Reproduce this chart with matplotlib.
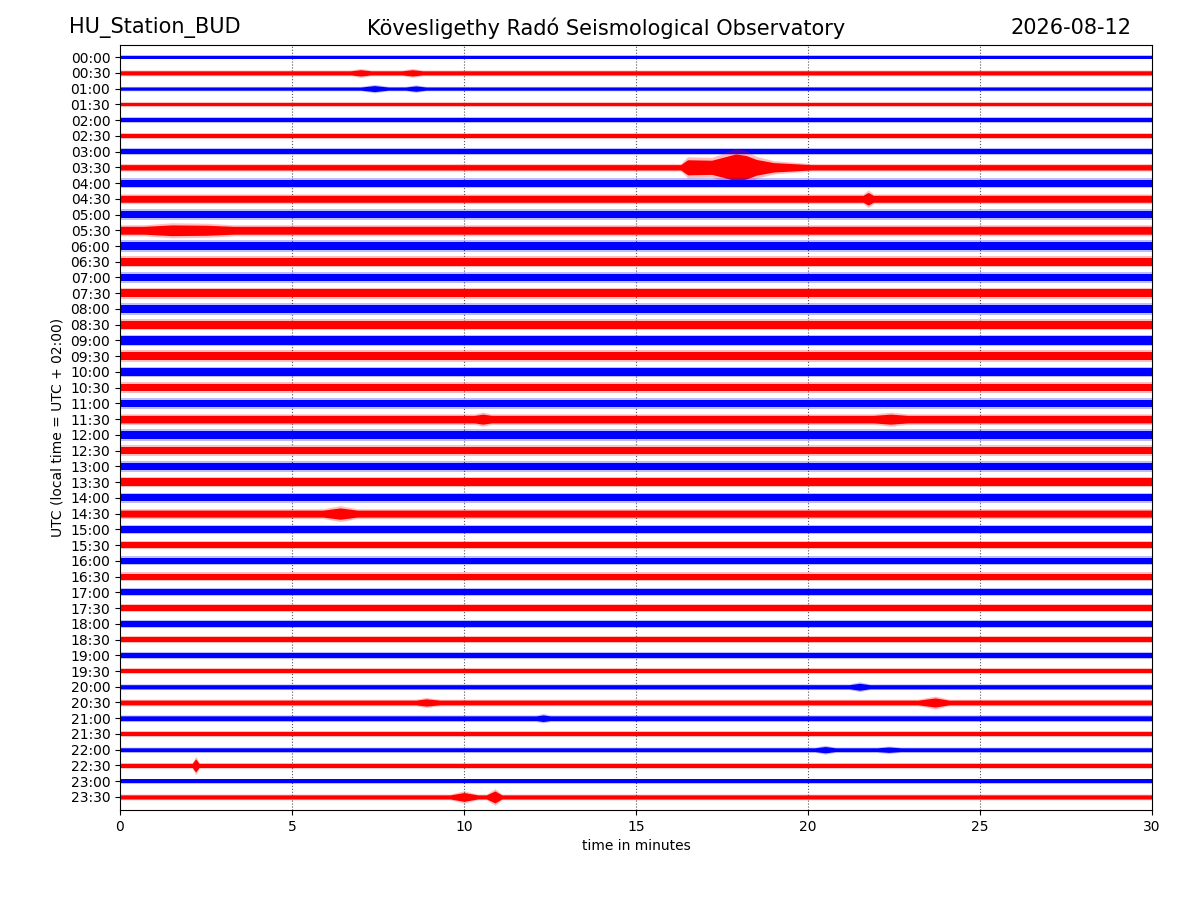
import numpy as np
import matplotlib
matplotlib.use('Agg')
import matplotlib.pyplot as plt

# row labels, one trace per half hour
row_labels = ['%02d:%02d' % (h, m) for h in range(24) for m in (0, 30)]

# typical half-amplitude of each trace (in row units)
base_amp = [0.10, 0.13, 0.10, 0.11, 0.13, 0.13, 0.14, 0.17,
            0.22, 0.22, 0.24, 0.25, 0.26, 0.24, 0.24, 0.24,
            0.26, 0.26, 0.27, 0.26, 0.24, 0.24, 0.24, 0.24,
            0.26, 0.24, 0.24, 0.24, 0.22, 0.22, 0.21, 0.20,
            0.21, 0.19, 0.19, 0.17, 0.18, 0.17, 0.15, 0.15,
            0.13, 0.15, 0.15, 0.13, 0.12, 0.13, 0.11, 0.13]

# bursts: row index, envelope keypoints (minute, half-amplitude)
event_row = [7, 1, 1, 2, 2, 11, 9, 29, 23, 23, 40, 41, 41, 42, 44, 44, 45, 47, 47]
event_t = [
    [16.3, 16.5, 17.2, 17.5, 17.9, 18.2, 18.5, 19.0, 20.1],
    [6.7, 7.0, 7.3], [8.2, 8.5, 8.8],
    [7.0, 7.4, 7.8], [8.3, 8.6, 8.9],
    [0.7, 1.5, 2.5, 3.3],
    [21.6, 21.75, 21.9],
    [5.9, 6.4, 6.9],
    [10.3, 10.55, 10.8], [21.9, 22.4, 22.9],
    [21.2, 21.5, 21.8],
    [8.6, 8.9, 9.3], [23.2, 23.7, 24.1],
    [12.1, 12.3, 12.5],
    [20.2, 20.5, 20.8], [22.0, 22.35, 22.7],
    [2.1, 2.2, 2.3],
    [9.6, 10.0, 10.4], [10.65, 10.9, 11.1],
]
event_a = [
    [0.17, 0.48, 0.45, 0.62, 0.85, 0.75, 0.50, 0.30, 0.17],
    [0.13, 0.20, 0.13], [0.13, 0.20, 0.13],
    [0.10, 0.19, 0.10], [0.10, 0.17, 0.10],
    [0.25, 0.34, 0.32, 0.25],
    [0.22, 0.40, 0.22],
    [0.22, 0.36, 0.22],
    [0.24, 0.32, 0.24], [0.24, 0.32, 0.24],
    [0.13, 0.22, 0.13],
    [0.15, 0.23, 0.15], [0.15, 0.29, 0.15],
    [0.15, 0.21, 0.15],
    [0.12, 0.20, 0.12], [0.12, 0.17, 0.12],
    [0.13, 0.42, 0.13],
    [0.13, 0.28, 0.13], [0.13, 0.38, 0.13],
]

colors = ['blue', 'red']

fig = plt.figure(figsize=(12, 9), dpi=100)
ax = fig.add_axes([0.1, 0.1, 0.86, 0.85])

for r, label in enumerate(row_labels):
    pts = [(0.0, base_amp[r]), (30.0, base_amp[r])]
    for i in range(len(event_row)):
        if event_row[i] == r:
            pts += list(zip(event_t[i], event_a[i]))
    pts.sort()
    xs = np.array([p[0] for p in pts])
    env = np.array([p[1] for p in pts])
    c = colors[r % 2]
    # faint fringe for the peaks, solid core for the bulk of the trace
    ax.fill_between(xs, r - env * 1.4, r + env * 1.4, color=c, alpha=0.25, lw=0, zorder=2 + r * 0.01)
    ax.fill_between(xs, r - env, r + env, color=c, lw=0, zorder=2 + r * 0.01)

ax.set_xlim(0, 30)
ax.set_ylim(47.83, -0.77)
ax.set_yticks(range(len(row_labels)))
ax.set_yticklabels(row_labels)
ax.set_xticks([0, 5, 10, 15, 20, 25, 30])
for xv in [5, 10, 15, 20, 25]:
    ax.axvline(xv, color='#555555', linestyle=':', linewidth=0.8, zorder=0)
ax.set_xlabel('time in minutes')
ax.set_ylabel('UTC (local time = UTC + 02:00)')

fig.text(0.0575, 0.969, 'HU_Station_BUD', fontsize=15, ha='left', va='center')
fig.text(0.505, 0.969, 'Kövesligethy Radó Seismological Observatory', fontsize=15, ha='center', va='center')
fig.text(0.9425, 0.969, '2026-08-12', fontsize=15, ha='right', va='center')

fig.savefig('out.png', dpi=100)
